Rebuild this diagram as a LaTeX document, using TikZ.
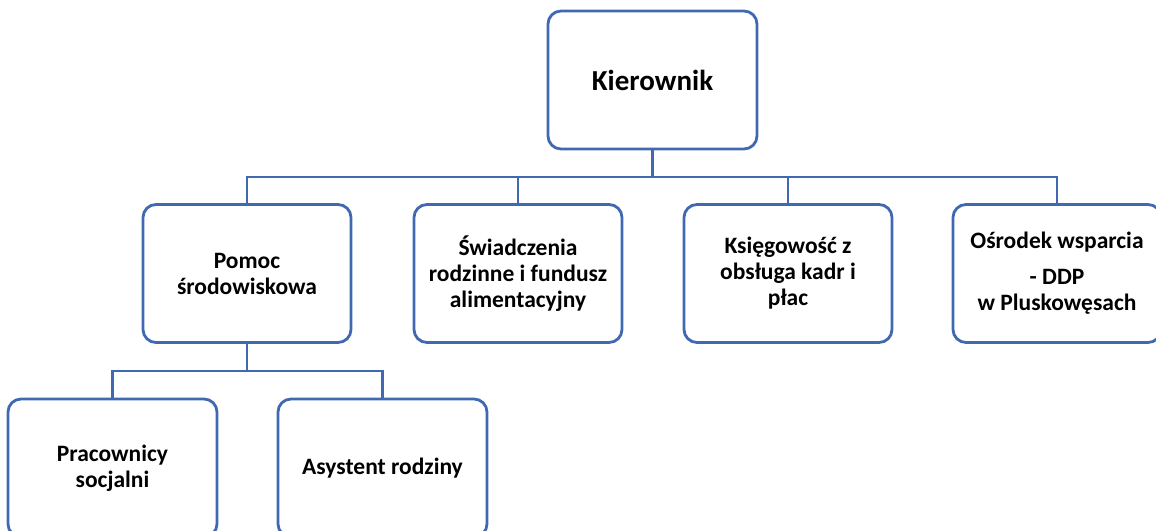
\documentclass[tikz,border=0pt]{standalone}
\usepackage{fontspec}
\setmainfont{Carlito}

\definecolor{BoxBlue}{HTML}{4169B2}

\tikzset{
  box/.style={draw=BoxBlue, line width=2.8pt, rounded corners=13pt, fill=white,
    minimum width=208pt, minimum height=138pt, inner sep=0pt, align=center,
    font=\fontsize{23.5}{26}\selectfont\bfseries},
  link/.style={draw=BoxBlue, line width=2.8pt}
}

\begin{document}
\begin{tikzpicture}[x=1pt, y=-1pt]

 \useasboundingbox (0,0) rectangle (1156,530);
 \clip (0,0) rectangle (1156,530);

 %%%%%%%%%% Points pour travailler %%%%%%%%%%
 \coordinate (bar) at (652.5,177);
 \coordinate (subbar) at (247,371);

 %%%%%%%%%% Kierownik %%%%%%%%%%
 \node[box, minimum width=209pt, font=\fontsize{29}{32}\selectfont\bfseries] (kier) at (652.5,80) {Kierownik};

 %%%%%%%%%% Second level %%%%%%%%%%
 \node[box] (pomoc) at (247,273.5) {Pomoc\\środowiskowa};
 \node[box] (swiad) at (518,273.5) {Świadczenia\\rodzinne i fundusz\\alimentacyjny};
 \node[box] (ksieg) at (788,273.5) {Księgowość z\\obsługa kadr i\\płac};
 \node[box] (osrod) at (1057,273.5) {Ośrodek wsparcia\\[10pt]- DDP\\w Pluskowęsach};

 %%%%%%%%%% Third level %%%%%%%%%%
 \node[box, minimum width=209pt] (prac) at (112.5,468) {Pracownicy\\socjalni};
 \node[box, minimum width=209pt] (asyst) at (382.5,468) {Asystent rodziny};

 %%%%%%%%%%% Connectors %%%%%%%%%%%
 \draw [link] (kier.south) -- (bar) ;
 \foreach \n in {pomoc,swiad,ksieg,osrod}
 {
   \draw [link] (\n.north) |- (bar) ;
 }
 \draw [link] (pomoc.south) -- (subbar) ;
 \foreach \n in {prac,asyst}
 {
   \draw [link] (\n.north) |- (subbar) ;
 }

\end{tikzpicture}
\end{document}
